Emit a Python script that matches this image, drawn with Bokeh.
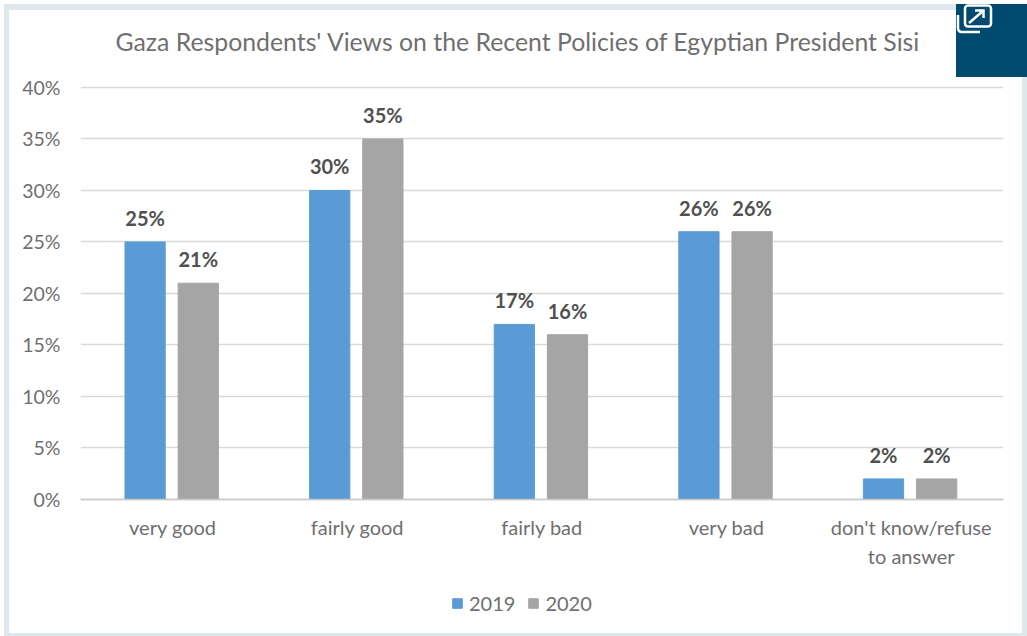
from bokeh.embed import file_html
from bokeh.resources import INLINE
from bokeh.layouts import column
from bokeh.models import (Div, FactorRange, FixedTicker, Label, Legend, LegendItem, ColumnDataSource)
from bokeh.plotting import figure
from bokeh.transform import dodge
from bokeh.core.properties import value

CATEGORIES = ["very good", "fairly good", "fairly bad", "very bad", "don't know/refuse\nto answer"]
VALUES_2019 = [25, 30, 17, 26, 2]
VALUES_2020 = [21, 35, 16, 26, 2]
Y_TICKS = [0, 5, 10, 15, 20, 25, 30, 35, 40]
TITLE = "Gaza Respondents' Views on the Recent Policies of Egyptian President Sisi"

FONT = "Lato"
TEXT_GREY = "#6f6f6f"
BLUE = "#5b9bd5"
GREY = "#a5a5a5"
NAVY = "#004a70"
STRIP = "#dde7ec"

# The frame fills the card's full height so the title, category labels and legend sit
# inside it; the y limits only make room for them, the axis itself is pinned at zero.
p = figure(
    width=1013, height=623,
    x_range=FactorRange(factors=CATEGORIES, range_padding=0),
    y_range=(-13.01, 47.475),
    output_backend="svg", toolbar_location=None,
    min_border_left=71, min_border_right=19,
    min_border_top=0, min_border_bottom=0,
    background_fill_alpha=0, border_fill_alpha=0,
    outline_line_color=None,
)

source = ColumnDataSource(dict(
    cat=CATEGORIES, v2019=VALUES_2019, v2020=VALUES_2020,
    l2019=[f"{v}%" for v in VALUES_2019], l2020=[f"{v}%" for v in VALUES_2020],
))

OFFSET_A = -0.150
OFFSET_B = 0.138
BAR_W = 0.218
bars_a = p.vbar(x=dodge("cat", OFFSET_A, range=p.x_range), top="v2019", width=BAR_W,
                color=BLUE, source=source)
bars_b = p.vbar(x=dodge("cat", OFFSET_B, range=p.x_range), top="v2020", width=BAR_W,
                color=GREY, source=source)

for key, off in (("2019", OFFSET_A), ("2020", OFFSET_B)):
    p.text(x=dodge("cat", off, range=p.x_range), y=f"v{key}", text=f"l{key}", source=source,
           text_font=value(FONT), text_font_size="20px", text_font_style="bold",
           text_color="#505050", text_align="center", text_baseline="bottom", y_offset=-12)

p.xgrid.visible = False
p.ygrid.ticker = FixedTicker(ticks=Y_TICKS)
p.ygrid.grid_line_color = "#d9d9d9"
p.ygrid.grid_line_width = 1.5

p.yaxis.ticker = FixedTicker(ticks=Y_TICKS)
p.yaxis.major_label_overrides = {t: f"{t}%" for t in Y_TICKS}
p.yaxis.axis_line_color = None
p.yaxis.major_tick_line_color = None
p.yaxis.minor_tick_line_color = None
p.yaxis.major_tick_out = 0
p.yaxis.major_label_standoff = 20
p.yaxis.major_label_text_font = FONT
p.yaxis.major_label_text_font_size = "19.5px"
p.yaxis.major_label_text_color = TEXT_GREY

p.xaxis.fixed_location = 0
p.xaxis.axis_line_color = "#c8c8c8"
p.xaxis.axis_line_width = 1.5
p.xaxis.major_tick_line_color = None
p.xaxis.minor_tick_line_color = None
p.xaxis.major_tick_out = 0
p.xaxis.major_label_standoff = 16
p.xaxis.major_label_text_font = FONT
p.xaxis.major_label_text_font_size = "20px"
p.xaxis.major_label_text_color = TEXT_GREY

p.add_layout(Label(x=35, y=592, x_units="screen", y_units="screen", text=TITLE,
                   text_font=FONT, text_font_size="24.8px", text_color=TEXT_GREY,
                   text_align="left", text_baseline="middle"))

legend = Legend(items=[LegendItem(label="2019", renderers=[bars_a]),
                       LegendItem(label="2020", renderers=[bars_b])],
                orientation="horizontal", location=(371, 18),
                border_line_color=None, background_fill_alpha=0,
                label_text_font=FONT, label_text_font_size="20px", label_text_color=TEXT_GREY,
                glyph_width=12, glyph_height=12, label_standoff=6, spacing=12, margin=0, padding=4)
p.add_layout(legend, "center")

# Enlarge button pinned to the top-right corner of the card
ICON = f"""<svg xmlns="http://www.w3.org/2000/svg" width="71" height="73" style="display:block">
<rect width="71" height="73" fill="{NAVY}"/>
<g fill="none" stroke="white" stroke-width="2.5">
<rect x="9" y="1.5" width="26" height="21" rx="3"/>
<path d="M2 11V24Q2 28 6 28H24"/>
<path d="M13 19L27 7M19 6.5H27.5V14" />
</g></svg>"""
button = Div(text=ICON, width=71, height=73, margin=0,
             styles={"position": "absolute", "left": "952px", "top": "0px", "z-index": "10"})

# White card with a pale blue edge
card = column(p, margin=(6, 5, 3, 5), styles={"background-color": "white"})
page = column(card, button, spacing=0, margin=(4, 0, 0, 4),
              styles={"background-color": STRIP, "position": "relative"})

open("out.html", "w").write(file_html(page, INLINE))
